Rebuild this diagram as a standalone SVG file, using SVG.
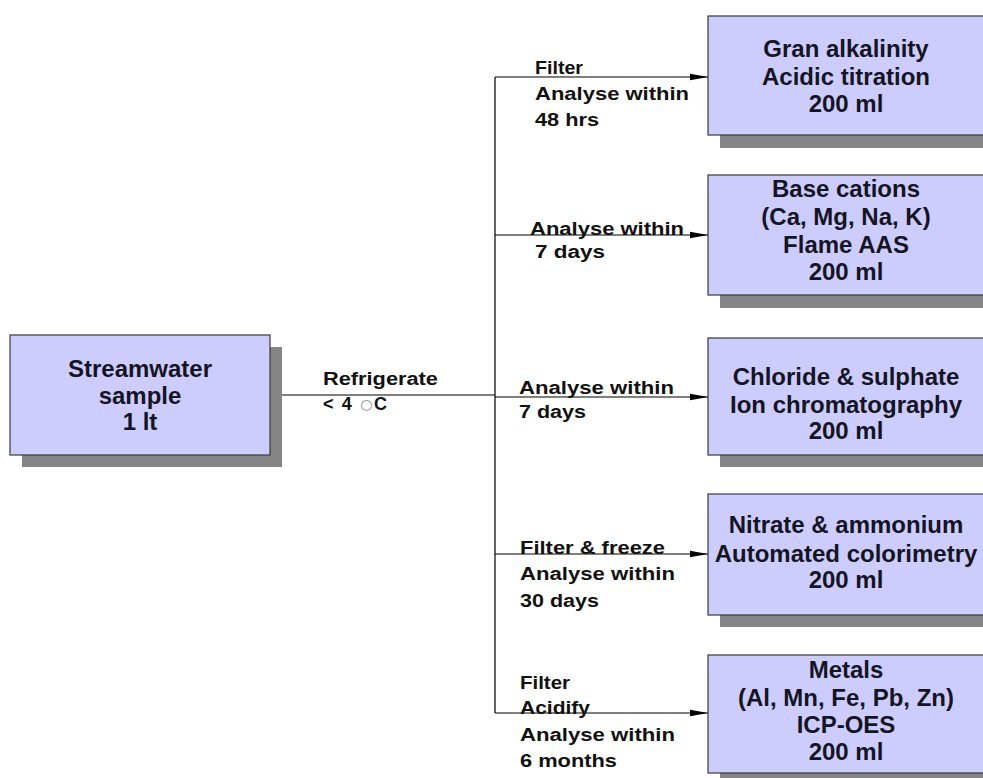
<svg xmlns="http://www.w3.org/2000/svg" width="983" height="778" viewBox="0 0 983 778">
<style>
.shadow{fill:#858585}
.box{fill:#ccccff;stroke:#3a3a3a;stroke-width:1.2}
.bt{font-family:"Liberation Sans",Arial,sans-serif;font-weight:bold;font-size:24px;fill:#15151f;text-anchor:middle}
.lb{font-family:"Liberation Sans",Arial,sans-serif;font-weight:bold;font-size:18px;fill:#111}
.ln{stroke:#000;stroke-width:1.2;fill:none}
</style>
<defs>
<marker id="ah" markerUnits="userSpaceOnUse" markerWidth="18" markerHeight="8" refX="18" refY="4" orient="auto">
<path d="M0,0.8 L18,4 L0,7.2 z" fill="#000"/>
</marker>
</defs>
<rect width="983" height="778" fill="#fff"/>

<g id="connectors">
<line class="ln" x1="270" y1="395" x2="495" y2="395"/>
<line class="ln" x1="495" y1="77" x2="495" y2="713"/>
<line class="ln" x1="495" y1="77" x2="708" y2="77" marker-end="url(#ah)"/>
<line class="ln" x1="495" y1="235" x2="708" y2="235" marker-end="url(#ah)"/>
<line class="ln" x1="495" y1="397" x2="708" y2="397" marker-end="url(#ah)"/>
<line class="ln" x1="495" y1="554" x2="708" y2="554" marker-end="url(#ah)"/>
<line class="ln" x1="495" y1="713" x2="708" y2="713" marker-end="url(#ah)"/>
</g>

<g id="labels">
<text class="lb" x="323" y="385" textLength="115" lengthAdjust="spacingAndGlyphs">Refrigerate</text>
<text class="lb" x="323" y="410" textLength="64" lengthAdjust="spacing">&lt; 4 <tspan fill="#8a8a8a" font-family="DejaVu Sans, sans-serif" font-size="14" font-weight="normal" dy="-1">○</tspan><tspan dy="1">C</tspan></text>

<text class="lb" x="535" y="74" textLength="48" lengthAdjust="spacingAndGlyphs">Filter</text>
<text class="lb" x="535" y="100" textLength="154" lengthAdjust="spacingAndGlyphs">Analyse within</text>
<text class="lb" x="535" y="126" textLength="64" lengthAdjust="spacingAndGlyphs">48 hrs</text>

<text class="lb" x="530" y="235" textLength="154" lengthAdjust="spacingAndGlyphs">Analyse within</text>
<text class="lb" x="535" y="258" textLength="70" lengthAdjust="spacingAndGlyphs">7 days</text>

<text class="lb" x="519" y="394" textLength="155" lengthAdjust="spacingAndGlyphs">Analyse within</text>
<text class="lb" x="519" y="418" textLength="67" lengthAdjust="spacingAndGlyphs">7 days</text>

<text class="lb" x="520" y="554" textLength="145" lengthAdjust="spacingAndGlyphs">Filter &amp; freeze</text>
<text class="lb" x="520" y="580" textLength="155" lengthAdjust="spacingAndGlyphs">Analyse within</text>
<text class="lb" x="520" y="607" textLength="79" lengthAdjust="spacingAndGlyphs">30 days</text>

<text class="lb" x="520" y="689" textLength="50" lengthAdjust="spacingAndGlyphs">Filter</text>
<text class="lb" x="520" y="714" textLength="70" lengthAdjust="spacingAndGlyphs">Acidify</text>
<text class="lb" x="520" y="741" textLength="155" lengthAdjust="spacingAndGlyphs">Analyse within</text>
<text class="lb" x="520" y="767" textLength="97" lengthAdjust="spacingAndGlyphs">6 months</text>
</g>

<g id="source">
<rect class="shadow" x="22" y="347" width="260" height="120"/>
<rect class="box" x="10" y="335" width="260" height="120"/>
<text class="bt" x="140" y="377">Streamwater</text>
<text class="bt" x="140" y="404">sample</text>
<text class="bt" x="140" y="430">1 lt</text>
</g>

<g id="gran">
<rect class="shadow" x="720" y="28" width="276" height="120"/>
<rect class="box" x="708" y="16" width="276" height="119"/>
<text class="bt" x="846" y="57">Gran alkalinity</text>
<text class="bt" x="846" y="85">Acidic titration</text>
<text class="bt" x="846" y="112">200 ml</text>
</g>

<g id="cations">
<rect class="shadow" x="720" y="188" width="276" height="120"/>
<rect class="box" x="708" y="175" width="276" height="120"/>
<text class="bt" x="846" y="197">Base cations</text>
<text class="bt" x="846" y="225">(Ca, Mg, Na, K)</text>
<text class="bt" x="846" y="253">Flame AAS</text>
<text class="bt" x="846" y="280">200 ml</text>
</g>

<g id="chloride">
<rect class="shadow" x="720" y="350" width="276" height="117"/>
<rect class="box" x="708" y="338" width="276" height="117"/>
<text class="bt" x="846" y="385">Chloride &amp; sulphate</text>
<text class="bt" x="846" y="413">Ion chromatography</text>
<text class="bt" x="846" y="439">200 ml</text>
</g>

<g id="nitrate">
<rect class="shadow" x="720" y="507" width="276" height="120"/>
<rect class="box" x="708" y="494" width="276" height="121"/>
<text class="bt" x="846" y="533">Nitrate &amp; ammonium</text>
<text class="bt" x="846" y="562">Automated colorimetry</text>
<text class="bt" x="846" y="588">200 ml</text>
</g>

<g id="metals">
<rect class="shadow" x="720" y="667" width="276" height="118"/>
<rect class="box" x="708" y="655" width="276" height="118"/>
<text class="bt" x="846" y="678">Metals</text>
<text class="bt" x="846" y="706">(Al, Mn, Fe, Pb, Zn)</text>
<text class="bt" x="846" y="733">ICP-OES</text>
<text class="bt" x="846" y="760">200 ml</text>
</g>
</svg>
